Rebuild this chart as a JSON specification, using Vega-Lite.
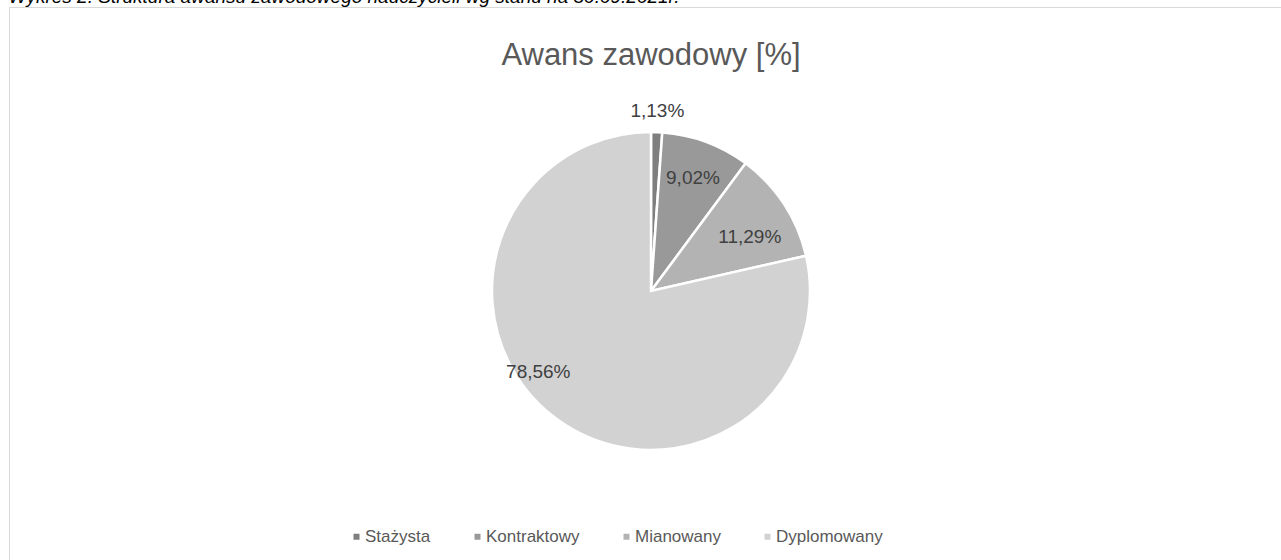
{
  "$schema": "https://vega.github.io/schema/vega-lite/v6.json",
  "padding": {"left": 8, "top": -13, "right": 0, "bottom": 0},
  "background": "white",
  "title": {
    "text": "Wykres 2. Struktura awansu zawodowego nauczycieli wg stanu na 30.09.2021r.",
    "anchor": "start",
    "font": "Liberation Sans",
    "fontSize": 19,
    "fontStyle": "italic",
    "fontWeight": "normal",
    "color": "#000000",
    "offset": 0
  },
  "vconcat": [
    {
      "width": 1284,
      "height": 568,
      "view": {"stroke": "#d9d9d9", "strokeWidth": 1, "fill": "white"},
      "title": {
        "text": "Awans zawodowy [%]",
        "anchor": "middle",
        "font": "Liberation Sans",
        "fontSize": 31,
        "fontWeight": "normal",
        "color": "#595959",
        "offset": -65
      },
      "data": {
        "values": [
          {"cat": "Stażysta", "ord": 1, "value": 1.13, "label": "1,13%"},
          {"cat": "Kontraktowy", "ord": 2, "value": 9.02, "label": "9,02%"},
          {"cat": "Mianowany", "ord": 3, "value": 11.29, "label": "11,29%"},
          {"cat": "Dyplomowany", "ord": 4, "value": 78.56, "label": "78,56%"}
        ]
      },
      "encoding": {
        "theta": {"field": "value", "type": "quantitative", "stack": true},
        "order": {"field": "ord", "type": "quantitative"}
      },
      "layer": [
        {
          "mark": {"type": "arc", "outerRadius": 159, "stroke": "white", "strokeWidth": 2.5},
          "encoding": {
            "color": {
              "field": "cat",
              "type": "nominal",
              "scale": {
                "domain": ["Stażysta", "Kontraktowy", "Mianowany", "Dyplomowany"],
                "range": ["#7f7f7f", "#999999", "#b3b3b3", "#d2d2d2"]
              },
              "legend": {
                "title": null,
                "orient": "none",
                "direction": "horizontal",
                "legendX": 339,
                "legendY": 521,
                "symbolType": "square",
                "symbolSize": 36,
                "symbolStrokeWidth": 0,
                "labelFont": "Liberation Sans",
                "labelFontSize": 17,
                "labelColor": "#595959",
                "columnPadding": 38,
                "labelOffset": 0
              }
            }
          }
        },
        {
          "mark": {"type": "text", "radius": 180, "font": "Liberation Sans", "fontSize": 19, "fill": "#404040"},
          "encoding": {
            "detail": {"field": "cat", "type": "nominal"},
            "text": {"condition": {"test": "datum.cat === 'Stażysta'", "field": "label"}, "value": ""}
          }
        },
        {
          "mark": {"type": "text", "radius": 121, "font": "Liberation Sans", "fontSize": 19, "fill": "#404040"},
          "encoding": {
            "detail": {"field": "cat", "type": "nominal"},
            "text": {"condition": {"test": "datum.cat === 'Kontraktowy'", "field": "label"}, "value": ""}
          }
        },
        {
          "mark": {"type": "text", "radius": 112, "dx": 5, "dy": 7, "font": "Liberation Sans", "fontSize": 19, "fill": "#404040"},
          "encoding": {
            "detail": {"field": "cat", "type": "nominal"},
            "text": {"condition": {"test": "datum.cat === 'Mianowany'", "field": "label"}, "value": ""}
          }
        },
        {
          "mark": {"type": "text", "radius": 139, "dx": -26, "dy": -28, "font": "Liberation Sans", "fontSize": 19, "fill": "#404040"},
          "encoding": {
            "detail": {"field": "cat", "type": "nominal"},
            "text": {"condition": {"test": "datum.cat === 'Dyplomowany'", "field": "label"}, "value": ""}
          }
        }
      ]
    }
  ],
  "config": {
    "view": {"stroke": "#d9d9d9", "strokeWidth": 1},
    "concat": {"spacing": 0}
  }
}
